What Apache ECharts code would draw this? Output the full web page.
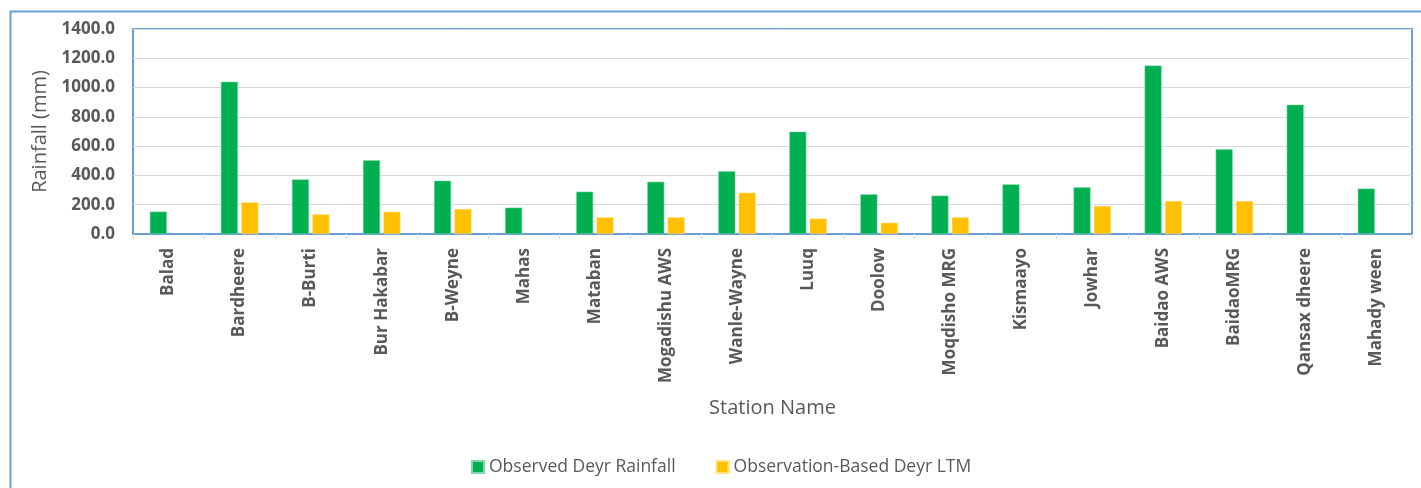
<!DOCTYPE html>
<html>
<head>
<meta charset="utf-8">
<script src="https://cdn.jsdelivr.net/npm/echarts@6/dist/echarts.min.js"></script>
<style>
  html, body { margin: 0; padding: 0; background: #fff; }
  #chart { width: 1421px; height: 488px; }
</style>
</head>
<body>
<div id="chart"></div>
<script>
// Deyr season rainfall per station (mm)
const stations = ['Balad', 'Bardheere', 'B-Burti', 'Bur Hakabar', 'B-Weyne', 'Mahas', 'Mataban',
  'Mogadishu AWS', 'Wanle-Wayne', 'Luuq', 'Doolow', 'Moqdisho MRG', 'Kismaayo', 'Jowhar',
  'Baidao AWS', 'BaidaoMRG', 'Qansax dheere', 'Mahady ween'];
const observedRainfall = [153, 1040, 373, 503, 364, 180, 289, 357, 428, 699, 271, 262, 339, 319, 1150, 578, 883, 310];
const deyrLTM = [null, 216, 134, 152, 171, null, 114, 114, 282, 105, 77, 114, null, 191, 225, 225, null, null];
const yTicks = { min: 0, max: 1400, step: 200 };

const labelGrey = '#595959';
const frameBlue = '#6a9fd6';
const font = "'Open Sans', 'Liberation Sans', sans-serif";

const chart = echarts.init(document.getElementById('chart'), null, { renderer: 'canvas' });
chart.setOption({
  animation: false,
  backgroundColor: '#fff',
  graphic: [{
    type: 'rect',
    left: 8, top: 9,
    shape: { width: 1480, height: 560 },
    style: { fill: 'none', stroke: frameBlue, lineWidth: 2 },
    silent: true
  }],
  grid: {
    left: 133, top: 29, right: 9, bottom: 254,
    show: true, borderColor: frameBlue, borderWidth: 2, backgroundColor: 'transparent',
    containLabel: false
  },
  legend: {
    bottom: 7, left: 466,
    itemWidth: 12, itemHeight: 12, itemGap: 40,
    icon: 'rect',
    textStyle: { color: labelGrey, fontSize: 17.5, fontFamily: font }
  },
  xAxis: {
    type: 'category',
    data: stations,
    name: 'Station Name',
    nameLocation: 'middle',
    nameGap: 164,
    nameTextStyle: { color: labelGrey, fontSize: 20, fontFamily: font },
    axisLine: { show: true, lineStyle: { color: frameBlue, width: 2 } },
    axisTick: { show: true, length: 5, lineStyle: { color: '#d9d9d9' } },
    axisLabel: {
      rotate: 90, interval: 0, margin: 14,
      color: labelGrey, fontSize: 17, fontWeight: 'bold', fontFamily: font
    }
  },
  yAxis: {
    type: 'value',
    min: yTicks.min, max: yTicks.max, interval: yTicks.step,
    name: 'Rainfall (mm)',
    nameLocation: 'middle',
    nameGap: 83,
    nameTextStyle: { color: labelGrey, fontSize: 20, fontFamily: font },
    axisLine: { show: false },
    axisTick: { show: false },
    axisLabel: {
      margin: 18, color: labelGrey, fontSize: 17, fontWeight: 'bold', fontFamily: font,
      formatter: v => v.toFixed(1)
    },
    splitLine: { lineStyle: { color: '#d9d9d9', width: 1 } }
  },
  series: [
    {
      name: 'Observed Deyr Rainfall',
      type: 'bar',
      data: observedRainfall,
      barWidth: 17,
      barGap: '20%',
      itemStyle: { color: '#00b050', borderColor: '#7fd8a6', borderWidth: 0.5 }
    },
    {
      name: 'Observation-Based Deyr LTM',
      type: 'bar',
      data: deyrLTM,
      barWidth: 17,
      itemStyle: { color: '#ffc000', borderColor: '#ffe07f', borderWidth: 0.5 }
    }
  ]
});
</script>
</body>
</html>
